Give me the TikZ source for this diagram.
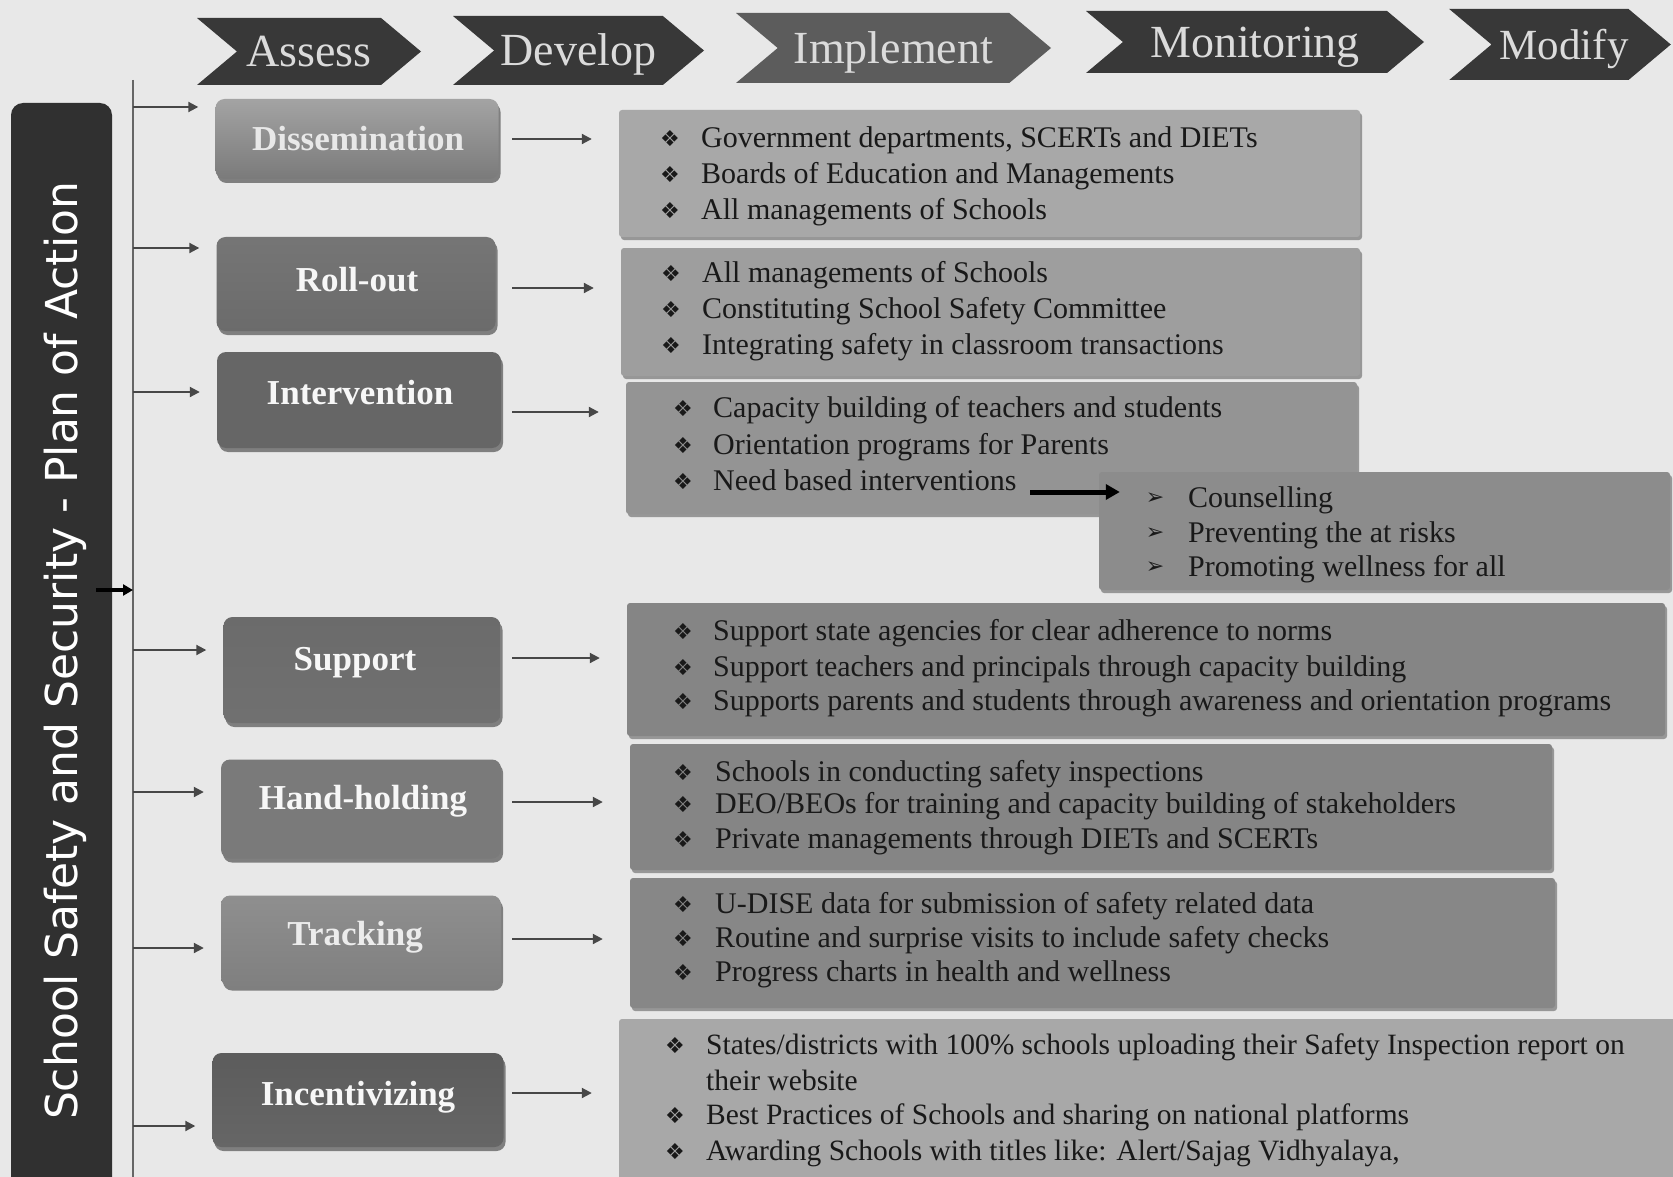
\documentclass[tikz,border=0pt]{standalone}
\usepackage{fontspec}
\setmainfont{Liberation Serif}
\newfontfamily\barfont{DejaVu Sans}
\newfontfamily\symfont{DejaVu Sans}
\usetikzlibrary{shapes.symbols,shadows,arrows.meta,calc}
\definecolor{bgc}{gray}{0.91}
\definecolor{chevc}{gray}{0.22}
\definecolor{chevl}{gray}{0.36}
\definecolor{chevt}{gray}{0.86}
\definecolor{barc}{gray}{0.19}
\definecolor{txt}{gray}{0.1}
\definecolor{arrc}{gray}{0.28}
\definecolor{lnc}{gray}{0.4}
% content box fills
\definecolor{f1}{gray}{0.66}
\definecolor{f2}{gray}{0.62}
\definecolor{f3}{gray}{0.58}
\definecolor{fs}{gray}{0.55}
\definecolor{f4}{gray}{0.52}
\definecolor{f5}{gray}{0.52}
\definecolor{f6}{gray}{0.53}
\definecolor{f7}{gray}{0.66}
% process box shades (top, middle, bottom)
\definecolor{dT}{gray}{0.64}\definecolor{dM}{gray}{0.56}\definecolor{dB}{gray}{0.48}
\definecolor{rT}{gray}{0.46}\definecolor{rM}{gray}{0.28}\definecolor{rB}{gray}{0.42}
\definecolor{iT}{gray}{0.40}\definecolor{iM}{gray}{0.22}\definecolor{iB}{gray}{0.40}
\definecolor{sT}{gray}{0.42}\definecolor{sM}{gray}{0.27}\definecolor{sB}{gray}{0.44}
\definecolor{hT}{gray}{0.48}\definecolor{hM}{gray}{0.34}\definecolor{hB}{gray}{0.48}
\definecolor{tT}{gray}{0.56}\definecolor{tM}{gray}{0.48}\definecolor{tB}{gray}{0.50}
\definecolor{nT}{gray}{0.36}\definecolor{nM}{gray}{0.12}\definecolor{nB}{gray}{0.40}
\tikzset{
  chev/.style={signal, signal to=east, signal from=west, signal pointer angle=80,
    inner sep=0pt, fill=#1, text=chevt, text height=31pt, text depth=0pt,
    font=\fontsize{46}{46}\selectfont},
  pbox/.style n args={3}{rectangle, rounded corners=9pt, inner sep=0pt,
    top color=#1, middle color=#2, bottom color=#3,
    drop shadow={shadow xshift=2pt, shadow yshift=-4pt, opacity=0.45, fill=black}},
  lbl/.style={inner sep=0pt, text=white!94!gray, text height=23pt, text depth=0pt,
    font=\fontsize{35}{35}\selectfont\bfseries},
  cbox/.style={rectangle, rounded corners=3pt, inner sep=0pt, fill=#1,
    drop shadow={shadow xshift=2pt, shadow yshift=-3pt, opacity=0.35, fill=black}},
  itm/.style={anchor=west, inner sep=0pt, text=txt, text height=17pt, text depth=0pt,
    font=\fontsize{30}{36}\selectfont},
  bul/.style={inner sep=0pt, text=txt, font=\symfont\fontsize{22}{22}\selectfont},
  larr/.style={draw=arrc, line width=2pt, -{Triangle[length=10pt,width=10pt]}},
}
\newcommand\li[5]{%
  \node[bul] (#1b) at (#2,#4) {❖};
  \node[itm] (#1) at (#3,#4) {#5};}
\newcommand\lisub[5]{%
  \node[bul] (#1b) at (#2,#4) {➢};
  \node[itm] (#1) at (#3,#4) {#5};}
\begin{document}
\begin{tikzpicture}[x=1pt,y=-1pt]
\useasboundingbox (0,0) rectangle (1673,1177);
\fill[bgc] (0,0) rectangle (1673,1177);

% chevrons
\node[chev=chevc, minimum width=224pt, minimum height=67pt] (assess) at (309,51.5) {Assess};
\node[chev=chevc, minimum width=251pt, minimum height=69pt] (develop) at (578.5,50.5) {Develop};
\node[chev=chevl, minimum width=315pt, minimum height=70pt] (implement) at (893.5,48) {Implement};
\node[chev=chevc, minimum width=338pt, minimum height=62pt] (monitoring) at (1255,42) {Monitoring};
\node[chev=chevc, minimum width=214pt, minimum height=71pt, font=\fontsize{43}{43}\selectfont] (modify) at (1560,44.5) {\hspace*{8pt}Modify};

% left bar
\node[rectangle, rounded corners=12pt, fill=barc, minimum width=101pt, minimum height=1100pt, inner sep=0pt] (bar) at (61.5,653) {};
\node[rotate=90, inner sep=0pt, text=white, text height=32pt, text depth=0pt,
  font=\barfont\fontsize{44}{44}\selectfont] (bartext) at (61,651) {School Safety and Security - Plan of Action};

% vertical line
\coordinate (vtop) at (133,80);
\coordinate (vbot) at (133,1177);
\draw[lnc, line width=1.5pt] (vtop) -- (vbot);

% process boxes
\node[pbox={dT}{dM}{dB}, minimum width=283pt, minimum height=80pt] (diss) at (357,139) {};
\node[pbox={rT}{rM}{rB}, minimum width=279pt, minimum height=94pt] (roll) at (356,284) {};
\node[pbox={iT}{iM}{iB}, minimum width=284pt, minimum height=96pt] (intv) at (359,400) {};
\node[pbox={sT}{sM}{sB}, minimum width=277pt, minimum height=106pt] (supp) at (362,670) {};
\node[pbox={hT}{hM}{hB}, minimum width=280pt, minimum height=99pt] (hand) at (361,809) {};
\node[pbox={tT}{tM}{tB}, minimum width=280pt, minimum height=91pt] (trck) at (361,941) {};
\node[pbox={nT}{nM}{nB}, minimum width=291pt, minimum height=94pt] (incv) at (358,1100) {};

\node[lbl, text=white!82!gray] (dissL) at (358,139) {Dissemination};
\node[lbl] (rollL) at (357,280) {Roll-out};
\node[lbl] (intvL) at (360,393) {Intervention};
\node[lbl] (suppL) at (355,659) {Support};
\node[lbl] (handL) at (363,798) {Hand-holding};
\node[lbl, text=white!85!gray] (trckL) at (355,934) {Tracking};
\node[lbl] (incvL) at (358,1094) {Incentivizing};

% left arrows
\foreach \n/\y in {diss/107, roll/248, intv/392, supp/650, hand/792, trck/948, incv/1126}{
  \coordinate (l\n) at (133,\y);
  \draw[larr, shorten >=17pt] (l\n) -- (l\n -| \n.west);
}
% arrow from bar to the line
\coordinate (barout) at (96,590);
\draw[black, line width=3.5pt, -{Triangle[length=10pt,width=11pt]}] (barout) -- (barout -| vtop);

% content boxes
\node[cbox=f1, minimum width=741pt, minimum height=127pt] (c1) at (989.5,173.5) {};
\node[cbox=f2, minimum width=739pt, minimum height=128pt] (c2) at (990.5,312) {};
\node[cbox=f3, minimum width=731pt, minimum height=132pt] (c3) at (991.5,448) {};
\node[cbox=fs, minimum width=571pt, minimum height=118pt] (sub) at (1384.5,531) {};
\node[cbox=f4, minimum width=1038pt, minimum height=133pt] (c4) at (1146,669.5) {};
\node[cbox=f5, minimum width=922pt, minimum height=126pt] (c5) at (1091,807) {};
\node[cbox=f6, minimum width=925pt, minimum height=130pt] (c6) at (1092.5,943) {};
\node[cbox=f7, minimum width=1061pt, minimum height=171pt] (c7) at (1149.5,1104.5) {};

% right arrows
\foreach \n/\c/\y in {diss/c1/139, roll/c2/288, intv/c3/412, supp/c4/658, hand/c5/802, trck/c6/939, incv/c7/1093}{
  \coordinate (r\n) at (512,\y);
  \draw[larr, shorten >=27pt] (r\n) -- (r\n -| \c.west);
}

% texts
\li{t11}{670}{701}{139}{Government departments, SCERTs and DIETs}
\li{t12}{670}{701}{175}{Boards of Education and Managements}
\li{t13}{670}{701}{211}{All managements of Schools}

\li{t21}{671}{702}{274}{All managements of Schools}
\li{t22}{671}{702}{310}{Constituting School Safety Committee}
\li{t23}{671}{702}{346}{Integrating safety in classroom transactions}

\li{t31}{683}{713}{409}{Capacity building of teachers and students}
\li{t32}{683}{713}{446}{Orientation programs for Parents}
\li{t33}{683}{713}{482}{Need based interventions}

\lisub{s1}{1155}{1188}{499}{Counselling}
\lisub{s2}{1155}{1188}{534}{Preventing the at risks}
\lisub{s3}{1155}{1188}{568}{Promoting wellness for all}

\coordinate (nbs) at (1030,492);
\draw[black, line width=5pt, -{Triangle[length=14pt,width=15pt]}] (nbs) -- ([xshift=21pt]nbs -| sub.west);

\li{t41}{683}{713}{632}{Support state agencies for clear adherence to norms}
\li{t42}{683}{713}{668}{Support teachers and principals through capacity building}
\li{t43}{683}{713}{702}{Supports parents and students through awareness and orientation programs}

\li{t51}{683}{715}{773}{Schools in conducting safety inspections}
\li{t52}{683}{715}{805}{DEO/BEOs for training and capacity building of stakeholders}
\li{t53}{683}{715}{840}{Private managements through DIETs and SCERTs}

\li{t61}{683}{715}{905}{U-DISE data for submission of safety related data}
\li{t62}{683}{715}{939}{Routine and surprise visits to include safety checks}
\li{t63}{683}{715}{973}{Progress charts in health and wellness}

\begin{scope}[itm/.append style={font=\fontsize{29.5}{36}\selectfont}]
\li{t71}{675}{706}{1046}{States/districts with 100\% schools uploading their Safety Inspection report on}
\node[itm] (t72) at (706,1082) {their website};
\li{t73}{675}{706}{1116}{Best Practices of Schools and sharing on national platforms}
\li{t74}{675}{706}{1152}{Awarding Schools with titles like: Alert/Sajag Vidhyalaya,}
\end{scope}
\end{tikzpicture}
\end{document}
